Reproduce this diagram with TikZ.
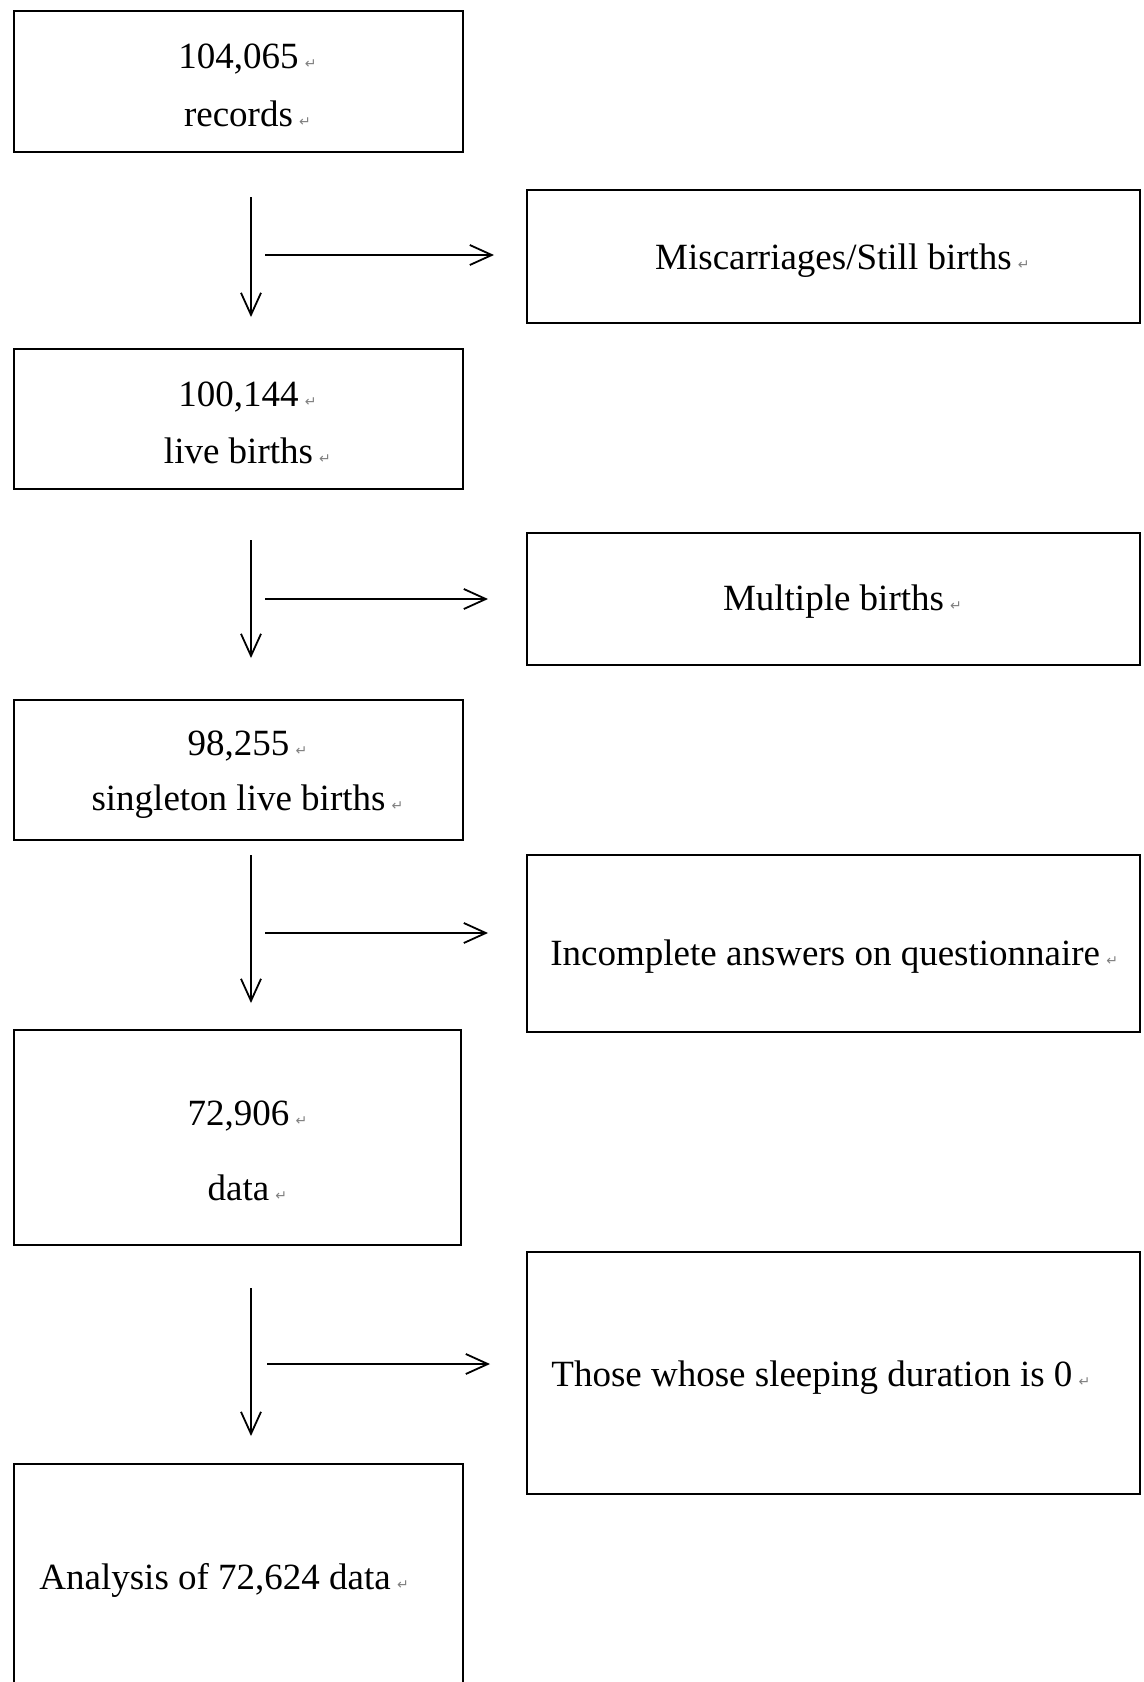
\documentclass[tikz,border=0pt]{standalone}
\usepackage{fontspec}
\setmainfont{Liberation Serif}
\newfontfamily\dvfont{DejaVu Sans}
\usetikzlibrary{arrows.meta}
\newcommand\pmark{\rlap{\,{\dvfont\fontsize{7}{7}\selectfont\color{black!50}↵}}}
\tikzset{
  box/.style={draw, line width=1.1pt, inner sep=0pt, outer sep=0pt, rectangle},
  txt/.style={inner sep=0pt, font=\fontsize{18.5}{22}\selectfont},
  flow/.style={line width=0.9pt, -{Straight Barb[length=11pt,width=10pt,line width=0.9pt]}}
}
\begin{document}
\begin{tikzpicture}[x=0.5pt,y=-0.5pt]
\useasboundingbox (0,0) rectangle (1144,1682);
% left column boxes
\node[box, minimum width=224.5pt, minimum height=70.5pt] (b1) at (238.5,81.5) {};
\node[box, minimum width=224.5pt, minimum height=70pt] (b2) at (238.5,419) {};
\node[box, minimum width=224.5pt, minimum height=70pt] (b3) at (238.5,770) {};
\node[box, minimum width=223.5pt, minimum height=107.5pt] (b4) at (237.5,1137.5) {};
\node[inner sep=0pt, outer sep=0pt, minimum width=224.5pt, minimum height=120pt] (b5) at (238.5,1584) {};
\draw[line width=1.1pt] (b5.south west) -- (b5.north west) -- (b5.north east) -- (b5.south east);
% right column boxes
\node[box, minimum width=306.5pt, minimum height=66.5pt] (e1) at (833.5,256.5) {};
\node[box, minimum width=306.5pt, minimum height=66pt] (e2) at (833.5,599) {};
\node[box, minimum width=306.5pt, minimum height=88.5pt] (e3) at (833.5,943.5) {};
\node[box, minimum width=306.5pt, minimum height=121pt] (e4) at (833.5,1373) {};
% texts
\node[txt] (t1a) at (238.5,59) {104,065\pmark};
\node[txt] (t1b) at (238.5,114) {records\pmark};
\node[txt] (t2a) at (238.5,397) {100,144\pmark};
\node[txt] (t2b) at (238.5,451) {live births\pmark};
\node[txt] (t3a) at (238.5,746) {98,255\pmark};
\node[txt] (t3b) at (238.5,802) {singleton live births\pmark};
\node[txt] (t4a) at (238.5,1116) {72,906\pmark};
\node[txt] (t4b) at (238.5,1188) {data\pmark};
\node[txt, anchor=west] (t5) at (39,1580) {Analysis of 72,624 data\pmark};
\node[txt] (s1) at (833.5,261) {Miscarriages/Still births\pmark};
\node[txt] (s2) at (833.5,602) {Multiple births\pmark};
\node[txt, anchor=west] (s3) at (550,957) {Incomplete answers on questionnaire\pmark};
\node[txt, anchor=west] (s4) at (551,1378) {Those whose sleeping duration is 0\pmark};
% arrow end points
\coordinate (d1s) at (251,197); \coordinate (d1e) at (251,317);
\coordinate (d2s) at (251,540); \coordinate (d2e) at (251,658);
\coordinate (d3s) at (251,855); \coordinate (d3e) at (251,1003);
\coordinate (d4s) at (251,1288); \coordinate (d4e) at (251,1436);
\coordinate (r1s) at (265,255); \coordinate (r1e) at (494,255);
\coordinate (r2s) at (265,599); \coordinate (r2e) at (488,599);
\coordinate (r3s) at (265,933); \coordinate (r3e) at (488,933);
\coordinate (r4s) at (267,1364); \coordinate (r4e) at (490,1364);
\draw[flow] (d1s) -- (d1e);
\draw[flow] (d2s) -- (d2e);
\draw[flow] (d3s) -- (d3e);
\draw[flow] (d4s) -- (d4e);
\draw[flow] (r1s) -- (r1e);
\draw[flow] (r2s) -- (r2e);
\draw[flow] (r3s) -- (r3e);
\draw[flow] (r4s) -- (r4e);
\end{tikzpicture}
\end{document}
